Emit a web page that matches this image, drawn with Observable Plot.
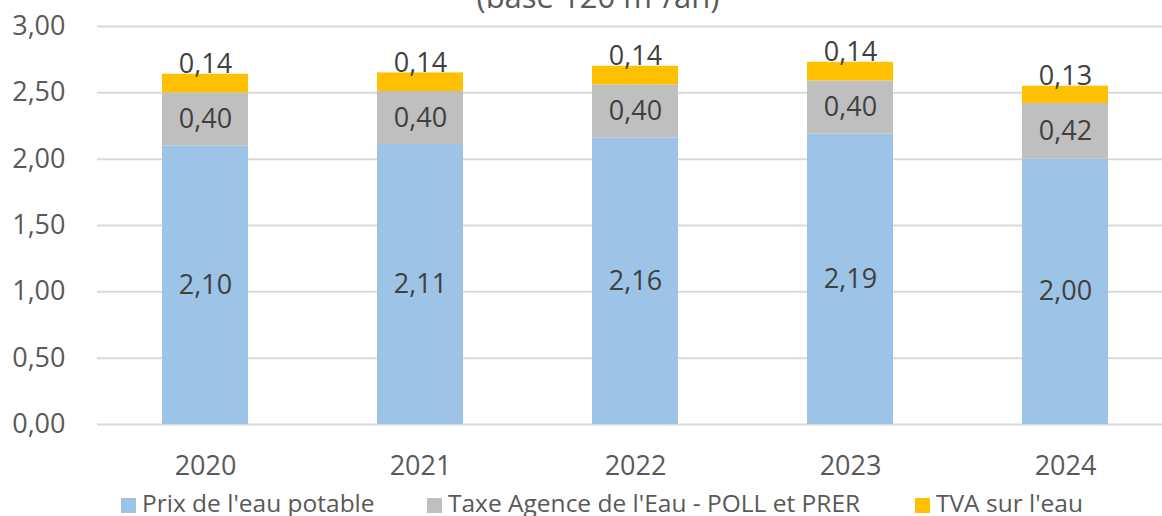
<!DOCTYPE html>
<html>
<head>
<meta charset="utf-8">
<script src="https://cdn.jsdelivr.net/npm/d3@7"></script>
<script src="https://cdn.jsdelivr.net/npm/@observablehq/plot@0.6"></script>
<style>
  html, body { margin: 0; padding: 0; background: #fff; }
  #wrap { position: relative; width: 1162px; height: 516px; overflow: hidden; font-family: "Open Sans", sans-serif; }
  #title { position: absolute; left: 0; width: 1196px; top: -19px; text-align: center; font-size: 31px; line-height: 31px; color: #595959; white-space: nowrap; }
  #chart { position: absolute; left: 0; top: 0; }
  .leg { position: absolute; top: 488px; font-size: 24.5px; line-height: 30px; color: #595959; white-space: nowrap; }
  .sw { position: absolute; width: 15px; height: 15px; top: 498px; }
</style>
</head>
<body>
<div id="wrap">
  <div id="title">(base 120 m³/an)</div>
  <div id="chart"></div>
  <div id="legend"></div>
</div>
<script>
const years = ["2020", "2021", "2022", "2023", "2024"];
const seriesNames = ["Prix de l'eau potable", "Taxe Agence de l'Eau - POLL et PRER", "TVA sur l'eau"];
const prixEau = [2.10, 2.11, 2.16, 2.19, 2.00];
const taxeAgence = [0.40, 0.40, 0.40, 0.40, 0.42];
const tva = [0.14, 0.14, 0.14, 0.14, 0.13];
const colors = ["#9dc3e6", "#bfbfbf", "#ffc000"];
const yTicks = [0, 0.5, 1, 1.5, 2, 2.5, 3];

const valueArrays = [prixEau, taxeAgence, tva];
const data = [];
seriesNames.forEach((s, i) => {
  years.forEach((y, j) => data.push({ year: y, series: s, value: valueArrays[i][j] }));
});
const fmt = v => d3.format(".2f")(v).replace(".", ",");

const chart = Plot.plot({
  width: 1162,
  height: 486,
  marginLeft: 97,
  marginRight: 0,
  marginTop: 26,
  marginBottom: 62,
  style: { fontFamily: "'Open Sans', sans-serif", background: "transparent" },
  x: { domain: years, range: [97.4, 1173.6], paddingInner: 0.6, paddingOuter: 0.3, label: null },
  y: { domain: [0, 3], label: null },
  color: { domain: seriesNames, range: colors },
  marks: [
    Plot.ruleY(yTicks, { stroke: "#d9d9d9", strokeWidth: 2 }),
    Plot.barY(data, { x: "year", y: "value", fill: "series", order: seriesNames }),
    Plot.textY(data, Plot.stackY({
      x: "year", y: "value", z: "series", order: seriesNames,
      text: d => d.series === seriesNames[2] ? "" : fmt(d.value),
      fontSize: 27, fill: "#404040"
    })),
    Plot.textY(data, Plot.stackY2({
      x: "year", y: "value", z: "series", order: seriesNames,
      text: d => d.series === seriesNames[2] ? fmt(d.value) : "",
      fontSize: 27, fill: "#404040", dy: -10
    })),
    Plot.axisY({ ticks: yTicks, tickFormat: fmt, tickSize: 0, tickPadding: 32, fontSize: 27, fill: "#595959", label: null }),
    Plot.axisX({ tickSize: 0, tickPadding: 31, fontSize: 27, fill: "#595959", label: null })
  ]
});
document.getElementById("chart").appendChild(chart);

const legend = document.getElementById("legend");
const legX = [121, 427, 915];
seriesNames.forEach((s, i) => {
  const sw = document.createElement("div");
  sw.className = "sw";
  sw.style.left = legX[i] + "px";
  sw.style.background = colors[i];
  legend.appendChild(sw);
  const t = document.createElement("div");
  t.className = "leg";
  t.style.left = (legX[i] + 21) + "px";
  t.textContent = s;
  legend.appendChild(t);
});
</script>
</body>
</html>
